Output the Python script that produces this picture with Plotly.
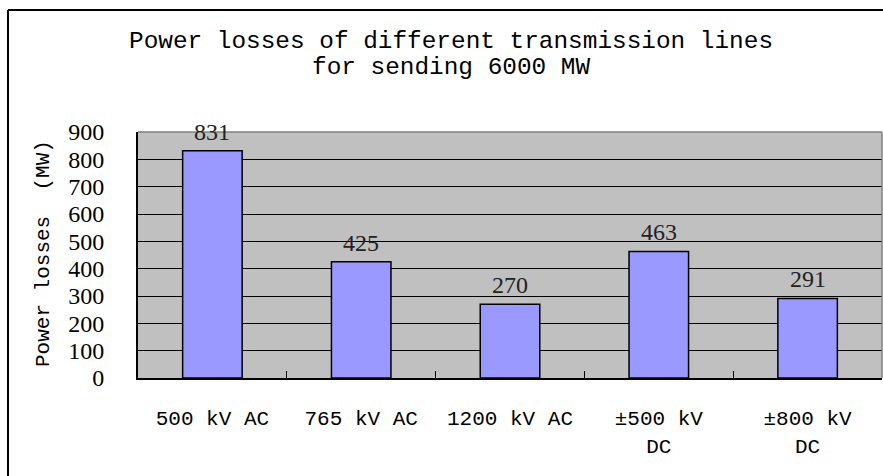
import plotly.graph_objects as go

categories = ["500 kV AC", "765 kV AC", "1200 kV AC", "±500 kV<br>DC", "±800 kV<br>DC"]
losses = [831, 425, 270, 463, 291]
y_ticks = [0, 100, 200, 300, 400, 500, 600, 700, 800, 900]
title_lines = ["Power losses of different transmission lines", "for sending 6000 MW"]
y_title = "Power losses  (MW)"

W, H = 883, 476
L, R, T, B = 138, 1, 132, 98
pw, ph = W - L - R, H - T - B

def px_x(x):
    return (x - L) / pw

def px_y(y):
    return (H - B - y) / ph

fig = go.Figure()
fig.add_trace(go.Bar(
    x=categories, y=losses, width=0.4,
    marker=dict(color="#9999FF", line=dict(color="#000000", width=1.5)),
    hoverinfo="skip",
))

annotations = []
for c, v in zip(categories, losses):
    annotations.append(dict(
        x=c, y=v, xref="x", yref="y", text=str(v), showarrow=False,
        yanchor="bottom", yshift=4,
        font=dict(family="Liberation Serif", size=24, color="#222222"),
    ))
for txt, yc in zip(title_lines, [41, 68]):
    annotations.append(dict(
        x=px_x(451), y=px_y(yc), xref="paper", yref="paper", text=txt,
        showarrow=False, xanchor="center", yanchor="middle",
        font=dict(family="Liberation Mono", size=24.4, color="#000000"),
    ))
annotations.append(dict(
    x=px_x(43), y=px_y(254), xref="paper", yref="paper", text=y_title,
    showarrow=False, xanchor="center", yanchor="middle", textangle=-90,
    font=dict(family="Liberation Mono", size=21, color="#000000"),
))

shapes = [
    dict(type="line", xref="paper", yref="paper", x0=0, x1=1, y0=1, y1=1,
         line=dict(color="#808080", width=1.5), layer="above"),
    dict(type="line", xref="paper", yref="paper", x0=1, x1=1, y0=0, y1=1,
         line=dict(color="#808080", width=1.5), layer="above"),
    dict(type="line", xref="paper", yref="paper", x0=px_x(8), x1=px_x(8),
         y0=px_y(10), y1=px_y(490), line=dict(color="#000000", width=2)),
    dict(type="line", xref="paper", yref="paper", x0=px_x(8), x1=px_x(900),
         y0=px_y(10), y1=px_y(10), line=dict(color="#000000", width=2)),
]

fig.update_layout(
    width=W, height=H,
    margin=dict(l=L, r=R, t=T, b=B, pad=0),
    paper_bgcolor="#FFFFFF", plot_bgcolor="#C0C0C0",
    showlegend=False,
    annotations=annotations, shapes=shapes,
    bargap=0.6,
)
fig.update_xaxes(
    type="category", showgrid=False,
    showline=True, linecolor="#000000", linewidth=2,
    ticks="inside", tickson="boundaries", ticklen=7, tickcolor="#000000", tickwidth=1,
    tickfont=dict(family="Liberation Mono", size=21, color="#000000"),
    ticklabelstandoff=20,
)
fig.update_yaxes(
    range=[0, 900], tickvals=y_ticks, ticktext=[str(t) for t in y_ticks],
    showgrid=True, gridcolor="#000000", gridwidth=1,
    showline=True, linecolor="#000000", linewidth=2,
    ticks="inside", ticklen=7, tickcolor="#000000",
    tickfont=dict(family="Liberation Serif", size=24, color="#000000"),
    ticklabelstandoff=27, zeroline=False,
)

fig.write_html("out.html", config={"displayModeBar": False},
               post_script="document.body.style.margin='0px';")
